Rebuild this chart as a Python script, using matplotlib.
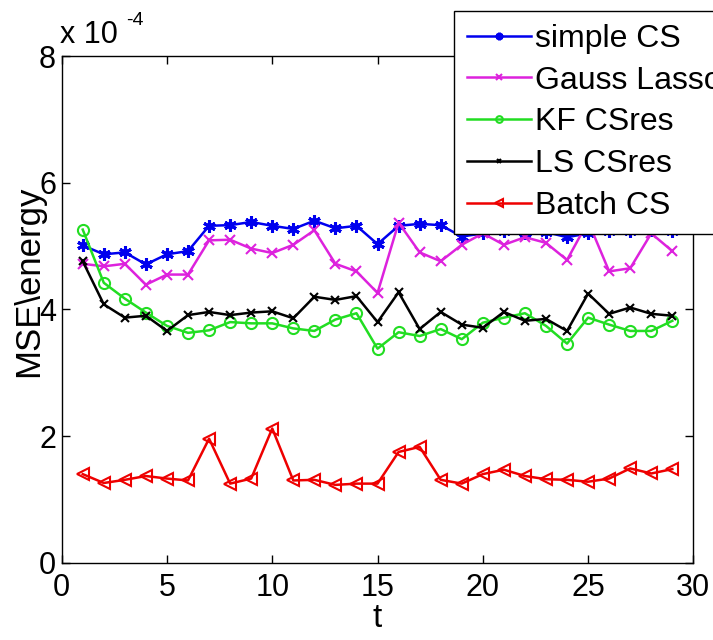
import matplotlib
matplotlib.use("Agg")
import matplotlib.pyplot as plt
from matplotlib.ticker import FuncFormatter
import numpy as np

plt.rcParams['font.family'] = ['Liberation Sans', 'DejaVu Sans']

# Datos (en unidades de 1e-4)
t = np.arange(1, 30)
simple_cs = np.array([5.01, 4.87, 4.90, 4.71, 4.87, 4.92, 5.32, 5.33, 5.38, 5.32,
                      5.27, 5.40, 5.28, 5.32, 5.03, 5.32, 5.35, 5.33, 5.15, 5.20,
                      5.23, 5.20, 5.22, 5.14, 5.20, 5.23, 5.23, 5.26, 5.23]) * 1e-4
gauss_lasso = np.array([4.72, 4.68, 4.72, 4.39, 4.55, 4.55, 5.09, 5.10, 4.96, 4.89,
                        5.02, 5.25, 4.72, 4.60, 4.26, 5.37, 4.90, 4.76, 5.02, 5.20,
                        5.02, 5.14, 5.05, 4.78, 5.39, 4.60, 4.65, 5.20, 4.92]) * 1e-4
kf_csres = np.array([5.26, 4.42, 4.17, 3.95, 3.74, 3.63, 3.67, 3.80, 3.78, 3.78,
                     3.70, 3.66, 3.84, 3.94, 3.38, 3.64, 3.58, 3.69, 3.53, 3.79,
                     3.87, 3.94, 3.74, 3.46, 3.87, 3.76, 3.66, 3.66, 3.82]) * 1e-4
ls_csres = np.array([4.76, 4.08, 3.87, 3.90, 3.66, 3.91, 3.96, 3.91, 3.95, 3.97,
                     3.86, 4.20, 4.15, 4.21, 3.80, 4.27, 3.69, 3.96, 3.76, 3.71,
                     3.96, 3.82, 3.85, 3.66, 4.25, 3.93, 4.03, 3.93, 3.90]) * 1e-4
batch_cs = np.array([1.40, 1.26, 1.31, 1.37, 1.33, 1.30, 1.96, 1.25, 1.33, 2.12,
                     1.30, 1.31, 1.23, 1.25, 1.25, 1.75, 1.83, 1.31, 1.25, 1.40,
                     1.47, 1.37, 1.32, 1.31, 1.28, 1.33, 1.49, 1.41, 1.48]) * 1e-4

fig = plt.figure(figsize=(7.13, 6.4), dpi=100)
ax = fig.add_axes([0.0865, 0.1206, 0.886, 0.7919])

# Graficar las curvas
ax.plot(t, simple_cs, "-", color="#0000ee", lw=1.8, marker=(6, 2, 0), ms=9, mew=2.2,
        label="simple CS")
ax.plot(t, gauss_lasso, "-", color="#dd22dd", lw=1.8, marker="x", ms=7, mew=1.5,
        label="Gauss Lasso")
ax.plot(t, kf_csres, "-", color="#22dd22", lw=1.8, marker="o", ms=8, mew=1.5,
        mfc="none", label="KF CSres")
ax.plot(t, ls_csres, "-", color="black", lw=1.8, marker="x", ms=6, mew=1.5,
        label="LS CSres")
ax.plot(t, batch_cs, "-", color="#ee0000", lw=1.8, marker="<", ms=9, mew=1.5,
        mfc="none", label="Batch CS")

# Ejes estilo MATLAB
ax.set_xlim(0, 30)
ax.set_ylim(0, 8e-4)
ax.set_xticks(np.arange(0, 31, 5))
ax.set_yticks(np.arange(0, 8.1e-4, 2e-4))
ax.yaxis.set_major_formatter(FuncFormatter(lambda v, p: "%g" % round(v / 1e-4, 6)))
ax.tick_params(direction="in", top=True, right=True, length=6, width=1,
               labelsize=22)
ax.tick_params(axis="x", pad=7)
ax.tick_params(axis="y", pad=4)
for s in ax.spines.values():
    s.set_linewidth(1)

# Etiquetas
ax.set_xlabel("t", fontsize=24, labelpad=0)
ax.set_ylabel("MSE\\energy", fontsize=25)
ax.yaxis.set_label_coords(-0.026, 0.555)
fig.text(0.084, 0.922, "x 10", fontsize=22, ha="left", va="bottom")
fig.text(0.177, 0.982, "-4", fontsize=14, ha="left", va="top")

leg = ax.legend(loc="upper left", bbox_to_anchor=(454 / 713, 1 - 11 / 640),
                bbox_transform=fig.transFigure, borderaxespad=0, fontsize=23,
                handlelength=2.0, handletextpad=0.15, labelspacing=0.37,
                borderpad=0.4, markerscale=0.6, fancybox=False, framealpha=1)
leg.get_frame().set_edgecolor("black")
leg.get_frame().set_linewidth(1)

plt.savefig("out.png", dpi=100)
